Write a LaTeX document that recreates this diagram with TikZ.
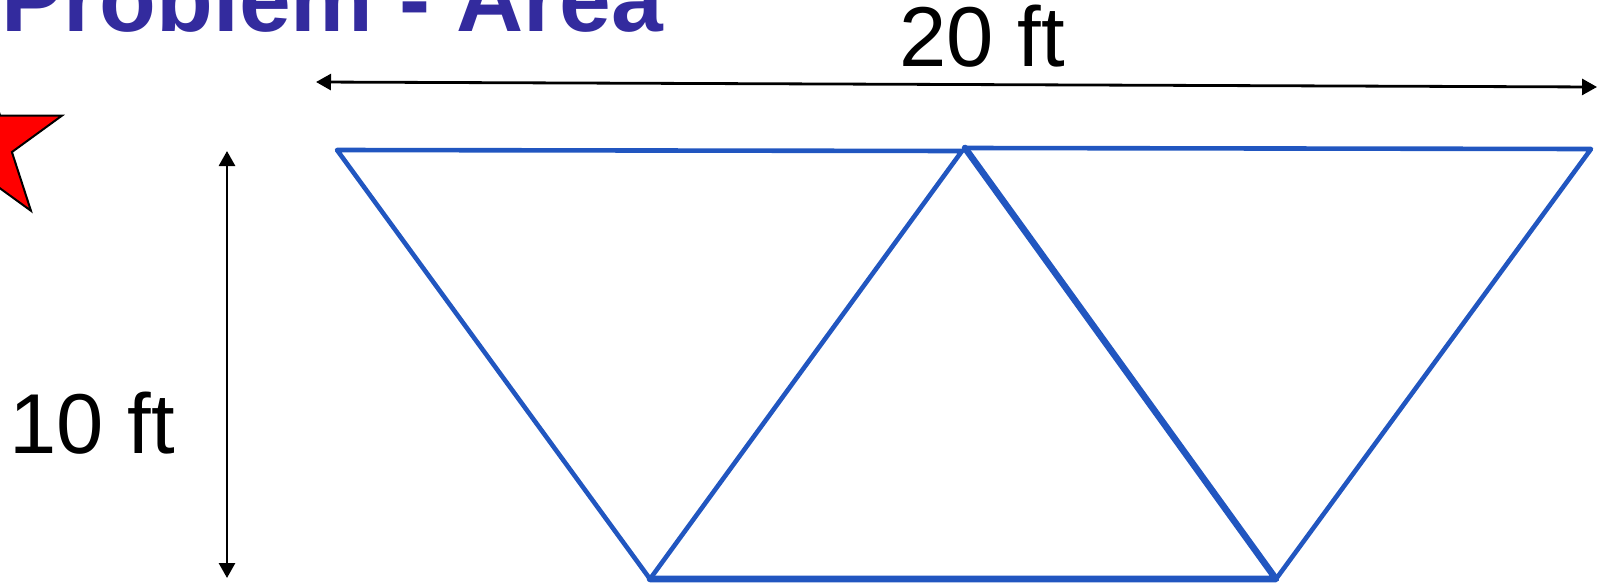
\documentclass[tikz,border=0pt]{standalone}
\usepackage{fontspec}
\setmainfont{Liberation Sans}
\usetikzlibrary{arrows.meta}
\definecolor{titleblue}{RGB}{51,43,158}
\definecolor{shapeblue}{RGB}{33,86,192}
\definecolor{starred}{RGB}{255,0,0}
\tikzset{
  edge/.style={draw=shapeblue, line width=2.3pt, line join=round, line cap=round},
  thickedge/.style={draw=shapeblue, line width=3.3pt, line join=round, line cap=round},
  dimline/.style={draw=black, line width=1.4pt, {Triangle[length=7.5pt,width=8pt]}-{Triangle[length=7.5pt,width=8pt]}},
  lbl/.style={inner sep=0pt, anchor=base west, font=\fontsize{42.5pt}{46pt}\selectfont},
}
\begin{document}
\begin{tikzpicture}[x=0.5pt, y=-0.5pt]
\useasboundingbox (0,0) rectangle (1604,584);
% title
\node[inner sep=0pt, anchor=base west, text=titleblue, font=\bfseries\fontsize{46.5pt}{50pt}\selectfont] (title) at (1,31) {Problem - Area};
% star (partly off the page)
\begin{scope}[shift={(-19,142)}]
\draw[fill=starred, draw=black, line width=1pt, line join=miter]
  (-90:85) -- (-54:32.5) -- (-18:85) -- (18:32.5) -- (54:85) -- (90:32.5)
  -- (126:85) -- (162:32.5) -- (198:85) -- (234:32.5) -- cycle;
\end{scope}
% vertices
\coordinate (TL) at (337,150);
\coordinate (TML) at (962,151);
\coordinate (TMR) at (965,148);
\coordinate (TR) at (1591,149);
\coordinate (BL) at (650,579);
\coordinate (BR) at (1276,579);
% shape
\draw[edge] (TL) -- (TML) -- (BL) -- cycle;
\draw[edge] (TMR) -- (TR) -- (BR);
\draw[thickedge] (TMR) -- (BR) -- (BL);
% dimension arrows
\coordinate (hL) at (316,82);
\coordinate (hR) at (1597,87);
\draw[dimline] (hL) -- (hR);
\coordinate (vT) at (227,151);
\coordinate (vB) at (227,578);
\draw[dimline] (vT) -- (vB);
% labels
\node[lbl] (w) at (899,66) {20 ft};
\node[lbl] (h) at (9,453) {10 ft};
\end{tikzpicture}
\end{document}
